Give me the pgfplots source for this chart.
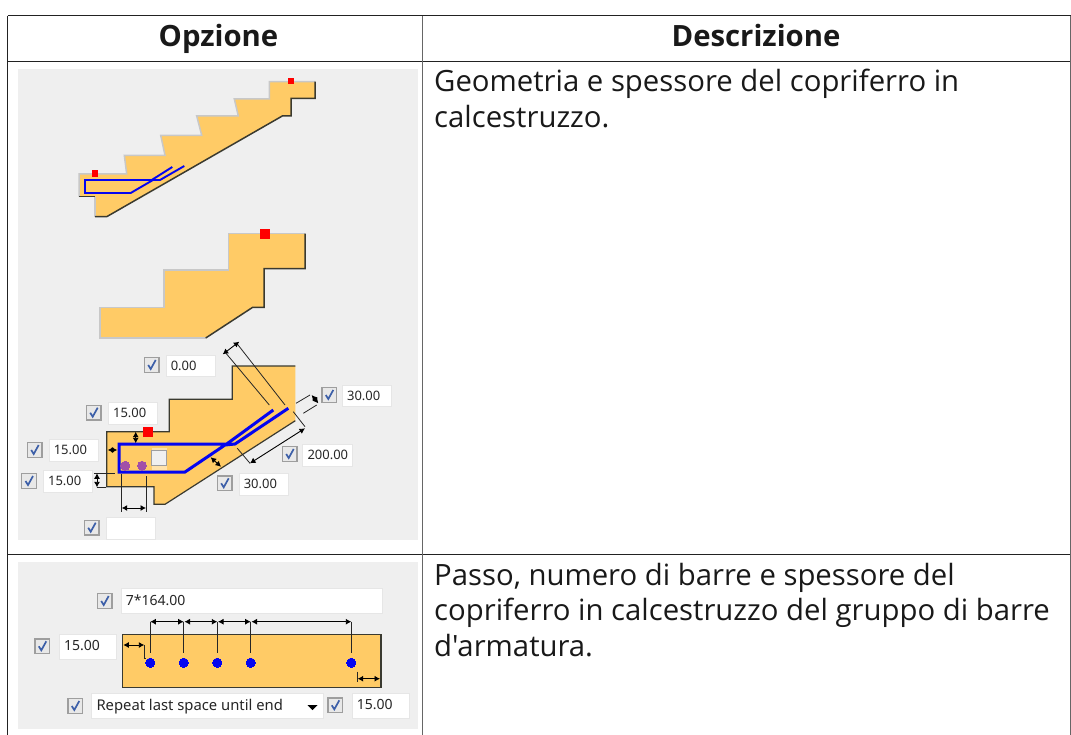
\documentclass[border=0pt]{standalone}
\usepackage{pgfplots}
\pgfplotsset{compat=1.18}
\usepackage{fontspec}
\usetikzlibrary{arrows.meta}
\setmainfont{Open Sans}
\newfontfamily\bodyf{Open Sans}
\newfontfamily\uifont{Noto Sans}
\definecolor{panel}{HTML}{EFEFEF}
\definecolor{conc}{HTML}{FFCB66}
\definecolor{edgeL}{HTML}{C8C8C8}
\definecolor{edgeD}{HTML}{3A3A30}
\definecolor{rebar}{HTML}{0505F0}
\definecolor{tblline}{HTML}{222222}
\definecolor{chkb}{HTML}{3C5FA8}
\definecolor{bxline}{HTML}{E6E6E6}
\definecolor{dotp}{HTML}{A24FA8}
\pgfdeclareplotmark{chk}{%
  \pgfsetlinewidth{1.2pt}\pgfsetstrokecolor{black!38}\pgfsetfillcolor{black!9}
  \pgfpathrectangle{\pgfpoint{-7.3pt}{-7.3pt}}{\pgfpoint{14.6pt}{14.6pt}}\pgfusepathqfillstroke
  \pgfsetlinewidth{1.7pt}\pgfsetstrokecolor{chkb}
  \pgfpathmoveto{\pgfpoint{-3.5pt}{0pt}}\pgfpathlineto{\pgfpoint{-1pt}{-4pt}}\pgfpathlineto{\pgfpoint{4pt}{5pt}}\pgfusepathqstroke
}
\pgfdeclareplotmark{unchk}{%
  \pgfsetlinewidth{1.2pt}\pgfsetstrokecolor{black!38}\pgfsetfillcolor{black!6}
  \pgfpathrectangle{\pgfpoint{-7.3pt}{-7.3pt}}{\pgfpoint{14.6pt}{14.6pt}}\pgfusepathqfillstroke
}
\newcommand\poly[2]{\addplot[fill=#1,draw=none] coordinates {#2} --cycle;}
\newcommand\edge[3]{\addplot[draw=#1,line width=#2,line join=miter] coordinates {#3};}
\newcommand\hl[1]{\addplot[draw=tblline,line width=1pt] coordinates {#1};}
\newcommand\redsq[3]{\addplot[only marks,mark=square*,mark size=#1,mark options={fill=red,draw=red,line width=0pt}] coordinates {(#2,#3)};}
\newcommand\dotm[4]{\addplot[only marks,mark=*,mark size=#2,mark options={fill=#1,draw=#1,line width=0pt}] coordinates {#3};}
\newcommand\chkm[2]{\addplot[only marks,mark=chk] coordinates {(#1,#2)};}
\newcommand\dimm[1]{\addplot[draw=black,line width=0.9pt,{Latex[length=5.5pt,width=6pt]}-{Latex[length=5.5pt,width=6pt]}] coordinates {#1};}
\newcommand\extl[1]{\addplot[draw=black!85,line width=0.8pt] coordinates {#1};}
% x1 y1 x2 y2 ymid text
\newcommand\tbox[6]{\addplot[fill=white,draw=bxline,line width=1pt] coordinates {(#1,#2)(#3,#2)(#3,#4)(#1,#4)} --cycle;
  \node[anchor=west,inner sep=0pt,xshift=4.6pt,text=black!85] at (axis cs:#1,#5) {\uifont\fontsize{13}{15}\selectfont #6};}
\newcommand\bodytxt[3]{\node[anchor=base west,inner sep=0pt,text=black!90] at (axis cs:#1,#2) {\bodyf\fontsize{29.3}{35}\selectfont #3};}
\begin{document}
\begin{tikzpicture}
\begin{axis}[
  scale only axis,width=1071pt,height=735pt,
  xmin=0,xmax=1071,ymin=0,ymax=735,y dir=reverse,
  enlargelimits=false,hide axis,
]
\addplot[fill=white,draw=none] coordinates {(0,0)(1071,0)(1071,735)(0,735)} --cycle;
% panels
\poly{panel}{(18,69)(418,69)(418,540)(18,540)}
\poly{panel}{(18,562)(418,562)(418,729)(18,729)}
% table rules
\hl{(7.5,16)(1071,16)}
\hl{(7.5,61.5)(1071,61.5)}
\hl{(7.5,554)(1071,554)}
\hl{(7.5,16)(7.5,735)}
\addplot[draw=black!60,line width=1pt] coordinates {(422.5,16)(422.5,735)};
\addplot[draw=black!60,line width=1pt] coordinates {(1070.5,16)(1070.5,735)};
% headers
\node[anchor=base,inner sep=0pt,font=\bfseries\fontsize{29.3}{35}\selectfont,text=black!90] at (axis cs:218.5,46.5) {Opzione};
\node[anchor=base,inner sep=0pt,font=\bfseries\fontsize{29.3}{35}\selectfont,text=black!90] at (axis cs:756,46.5) {Descrizione};
% body text
\bodytxt{434}{92}{Geometria e spessore del copriferro in}
\bodytxt{434}{128}{calcestruzzo.}
\bodytxt{434}{585}{Passo, numero di barre e spessore del}
\bodytxt{434}{620}{copriferro in calcestruzzo del gruppo di barre}
\bodytxt{434}{656}{d'armatura.}
% stair 1
\poly{conc}{(79,174)(126.7,174)(124.3,155.3)(165,155.3)(160.7,135.3)(201.7,135.3)(196.7,116)(238.3,116)(234.3,99)(269.3,99)(269.3,81.7)(315,81.7)(315,98.3)(291,98.3)(291,116)(282.3,116)(106.7,216.7)(95,216.7)(95,196.7)(79,196.7)}
\edge{edgeL}{1.5pt}{(79,196.7)(79,174)(126.7,174)(124.3,155.3)(165,155.3)(160.7,135.3)(201.7,135.3)(196.7,116)(238.3,116)(234.3,99)(269.3,99)(269.3,81.7)(315,81.7)}
\edge{edgeL}{1.5pt}{(95,216.7)(95,196.7)}
\edge{edgeD}{1.5pt}{(315,81.7)(315,98.3)(291,98.3)(291,116)(282.3,116)(106.7,216.7)(95,216.7)}
\edge{edgeD}{1.5pt}{(95,196.7)(79,196.7)}
\edge{rebar}{1.9pt}{(172.3,167)(151.7,180)(85,180)(85,193)(130.7,193)(153,180)(160,180)(184.3,166)}
\redsq{2.8pt}{291}{81}
\redsq{2.8pt}{95}{173.7}
% stair 2
\poly{conc}{(100,307.3)(164,307.3)(164,270)(228.3,270)(228.3,233.7)(305,233.7)(305,268.7)(264,268.7)(264,307.3)(252.7,307.3)(205.7,338)(100,338)}
\edge{edgeL}{1.5pt}{(205.7,338)(100,338)(100,307.3)(164,307.3)(164,270)(228.3,270)(228.3,233.7)(305,233.7)}
\edge{edgeD}{1.5pt}{(305,233.7)(305,268.7)(264,268.7)(264,307.3)(252.7,307.3)(205.7,338)}
\redsq{4.5pt}{265}{233.7}
% stair 3
\poly{conc}{(232.3,366)(295.3,366)(295.3,420.7)(165,504.3)(154,504.3)(154,486.7)(106.7,486.7)(106.7,431.7)(169.3,431.7)(169.3,399.3)(232.3,399.3)}
\edge{edgeD}{1.2pt}{(295.3,366)(232.3,366)(232.3,399.3)(169.3,399.3)(169.3,431.7)(106.7,431.7)(106.7,486.7)(154,486.7)(154,504.3)(165,504.3)(295.3,420.7)}
\addplot[fill=conc!55!white,draw=none] coordinates {(151.7,448.3)(166.7,448.3)(166.7,470)(151.7,470)} --cycle;
\addplot[only marks,mark=unchk] coordinates {(159,458)};
\extl{(226,353.3)(269.3,405)}
\extl{(237.3,344)(285,405)}
\extl{(293.3,411.7)(305,426.7)}
\extl{(237.3,448.3)(250,463.3)}
\extl{(296,403.3)(310,395)}
\extl{(303.3,413.3)(316.7,405)}
\extl{(94.3,473.3)(115,473.3)}
\extl{(96.7,487.3)(106,487.3)}
\extl{(121.7,474)(121.7,511.7)}
\extl{(146,476)(146,511.7)}
\dimm{(222.7,354.3)(239.3,341.7)}
\dimm{(311.7,395)(318.3,403.3)}
\dimm{(250,463.3)(305,428.3)}
\dimm{(210.7,457.3)(221,466.7)}
\dimm{(135.7,431.7)(135.7,443.3)}
\dimm{(107.7,450)(117.3,450)}
\dimm{(97,473.3)(97,487.3)}
\dimm{(121.7,508)(146,508)}
\edge{rebar}{3pt}{(273.3,410)(226.7,444)(119,444)(119,472)(185,472)(225,445)(235,444)(288.3,408.3)}
\dotm{dotp}{4.5pt}{(125.3,465.7)(142,465.7)}{}
\redsq{4.5pt}{147.7}{432}
% widgets panel 1
\chkm{151.7}{365}\tbox{166}{355}{215.7}{376.7}{365.5}{0.00}
\chkm{329.3}{395}\tbox{342.3}{385}{391.7}{406.7}{395.5}{30.00}
\chkm{93.7}{412.7}\tbox{108.3}{402.7}{157.3}{424}{413}{15.00}
\chkm{34.7}{450}\tbox{49}{439.7}{98.3}{461}{450}{15.00}
\chkm{29}{481}\tbox{43.3}{470.7}{92.7}{492.7}{481}{15.00}
\chkm{289.7}{454}\tbox{302.7}{444}{352.3}{466}{454.5}{200.00}
\chkm{224.7}{483.3}\tbox{239}{473.3}{288.3}{495}{483.5}{30.00}
\chkm{91.7}{527.7}\tbox{106}{517.3}{155.3}{539}{528}{}
% panel 2
\addplot[fill=conc,draw=edgeD,line width=1.4pt] coordinates {(122.3,634.3)(381,634.3)(381,687.7)(122.3,687.7)} --cycle;
\chkm{104.7}{601}\tbox{121}{588.3}{382.3}{613.3}{600.5}{\fontsize{14}{16}\selectfont 7*164.00}
\chkm{42.3}{646.3}\tbox{59.3}{634}{116.7}{659}{646}{\fontsize{14}{16}\selectfont 15.00}
\extl{(150.3,621.7)(150.3,653.3)}
\extl{(183.7,621.7)(183.7,653.3)}
\extl{(217.3,621.7)(217.3,653.3)}
\extl{(250.7,621.7)(250.7,653.3)}
\extl{(351.3,621.7)(351.3,653.3)}
\dimm{(150.3,621.7)(183.7,621.7)}
\dimm{(184.5,621.7)(217.3,621.7)}
\dimm{(218,621.7)(250.7,621.7)}
\dimm{(251.5,621.7)(351.3,621.7)}
\dimm{(123.3,645)(144.3,645)}
\extl{(144.3,645)(144.3,658.5)(146,658.5)}
\dimm{(357.7,678.7)(380,678.7)}
\extl{(357,671.7)(357,681.7)}
\dotm{rebar}{4.6pt}{(150.3,662.7)(183.7,662.7)(217.3,662.7)(250.7,662.7)(351.3,662.7)}{}
\chkm{75.3}{706}\tbox{91.7}{693.3}{323.3}{718.3}{707}{\fontsize{14.8}{16}\selectfont Repeat last space until end}
\addplot[fill=black,draw=none] coordinates {(307.5,705)(317.5,705)(312.5,710)} --cycle;
\chkm{335.3}{705.3}\tbox{352}{693.3}{409}{718.3}{705}{\fontsize{14}{16}\selectfont 15.00}
\end{axis}
\end{tikzpicture}
\end{document}
